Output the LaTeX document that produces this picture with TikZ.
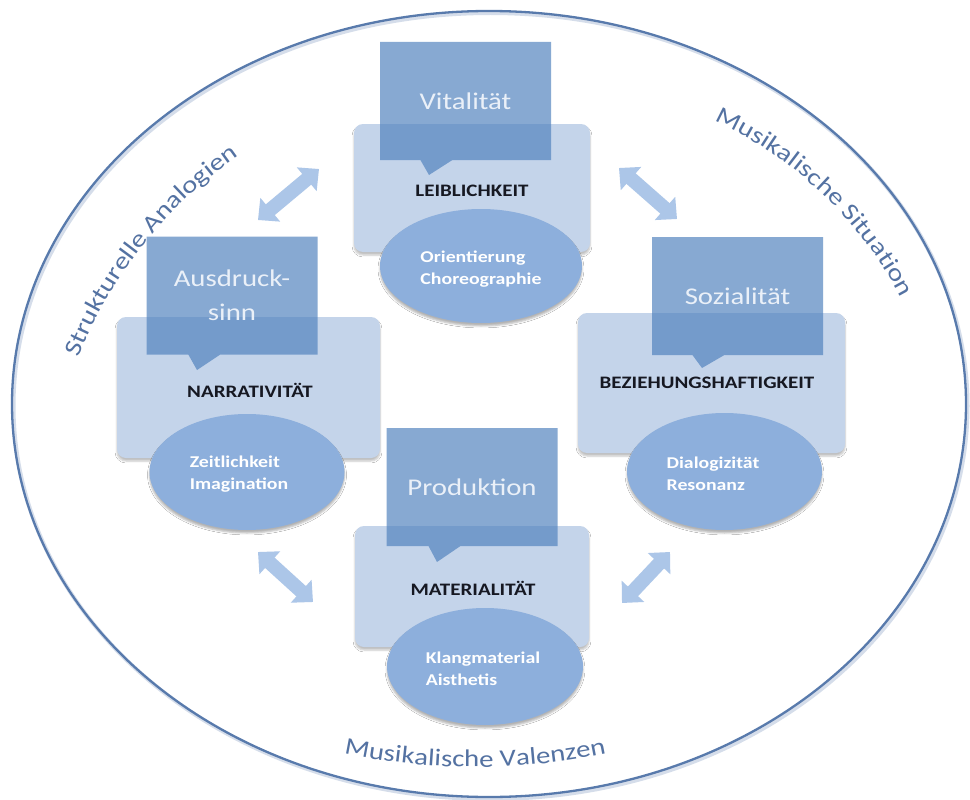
\documentclass[tikz,border=0pt]{standalone}
\usepackage{fontspec}
\setmainfont{Carlito}[FakeStretch=1.2]
\usetikzlibrary{shapes.geometric,shapes.callouts,arrows.meta,decorations.text,shadows.blur}

\definecolor{ringblue}{RGB}{88,122,172}
\definecolor{labelblue}{RGB}{84,114,162}
\definecolor{panelblue}{RGB}{196,212,234}
\definecolor{tabblue}{RGB}{79,129,189}
\definecolor{ovalblue}{RGB}{141,175,220}
\definecolor{arrowblue}{RGB}{172,198,232}
\definecolor{tabtext}{RGB}{234,240,248}
\definecolor{darktext}{RGB}{22,24,34}

\newcommand\arcfont{\color{labelblue}\fontsize{24}{28}\selectfont}

\begin{document}
\begin{tikzpicture}[x=1pt,y=1pt,
  panel/.style={rectangle, rounded corners=9pt, fill=panelblue, inner sep=0pt,
    blur shadow={shadow xshift=0pt, shadow yshift=-3pt, shadow opacity=25}},
  tab/.style={rectangle callout, fill=tabblue, fill opacity=0.68, text opacity=1,
    minimum width=171pt, minimum height=118pt, callout pointer width=32pt,
    text=tabtext, font=\fontsize{24}{34}\selectfont, align=center, inner sep=0pt},
  oval/.style={ellipse, fill=ovalblue, inner sep=0pt,
    blur shadow={shadow xshift=0pt, shadow yshift=-3pt, shadow opacity=30}},
  facet/.style={font=\bfseries\fontsize{17.5}{20}\selectfont, text=darktext, inner sep=0pt},
  aspect/.style={font=\bfseries\fontsize{16.5}{22}\selectfont, text=white, align=left, inner sep=0pt},
  link/.style={line width=14pt, draw=arrowblue,
    {Triangle[width=30pt,length=16pt]}-{Triangle[width=30pt,length=16pt]}},
  arclabel/.style={decorate, decoration={text along path, text align=center,
    text={|\arcfont|#1}}}
  ]
\useasboundingbox (0,0) rectangle (970,-800);
\fill[white] (0,0) rectangle (970,-800);

% outer ring with a faint shadow
\draw[ringblue, line width=4pt, opacity=0.25] (490.5,-406) ellipse [x radius=477pt, y radius=393pt];
\draw[ringblue, line width=2.3pt] (489,-404) ellipse [x radius=477pt, y radius=393pt];

% labels along the ring
\path[arclabel={Strukturelle Analogien}, shift={(496,-525)}]
  (166.5:450) arc[start angle=166.5, end angle=116.5, radius=450pt];
\path[arclabel={Musikalische Situation}, shift={(547,-484)}]
  (71.5:400) arc[start angle=71.5, end angle=21.5, radius=400pt];
\path[arclabel={Musikalische Valenzen}, shift={(475,-117)}]
  (245:650) arc[start angle=245, end angle=295, radius=650pt];

% top group
\node[panel, minimum width=236pt, minimum height=128pt] (topPanel) at (472,-188) {};
\node[tab, callout absolute pointer={(429,-175)}] (topTab) at (465.5,-101) {Vitalität};
\node[oval, minimum width=202pt, minimum height=114pt] (topOval) at (481,-266) {};
\node[facet] (topFacet) at (472,-191) {LEIBLICHKEIT};
\node[aspect] (topAspect) at (481,-269) {Orientierung\\Choreographie};

% left group
\node[panel, minimum width=263pt, minimum height=141pt] (leftPanel) at (248.5,-387.5) {};
\node[tab, callout absolute pointer={(197,-370)}] (leftTab) at (232,-295.5) {Ausdruck-\\sinn};
\node[oval, minimum width=195pt, minimum height=116pt] (leftOval) at (247,-472) {};
\node[facet] (leftFacet) at (250,-390) {NARRATIVITÄT};
\node[aspect] (leftAspect) at (239,-474) {Zeitlichkeit\\Imagination};

% right group
\node[panel, minimum width=267pt, minimum height=140pt] (rightPanel) at (711.5,-383) {};
\node[tab, callout absolute pointer={(702,-368)}] (rightTab) at (737.5,-296) {Sozialität};
\node[oval, minimum width=195pt, minimum height=117pt] (rightOval) at (724.5,-471.5) {};
\node[facet] (rightFacet) at (707,-383) {BEZIEHUNGSHAFTIGKEIT};
\node[aspect] (rightAspect) at (713,-474) {Dialogizität\\Resonanz};

% bottom group
\node[panel, minimum width=234pt, minimum height=121pt] (botPanel) at (472,-586.5) {};
\node[tab, callout absolute pointer={(437,-562)}] (botTab) at (472,-487) {Produktion};
\node[oval, minimum width=196pt, minimum height=117pt] (botOval) at (485,-666.5) {};
\node[facet] (botFacet) at (473,-588) {MATERIALITÄT};
\node[aspect] (botAspect) at (483,-669) {Klangmaterial\\Aisthetis};

% double arrows between the groups
\coordinate (nwA) at (258,-220); \coordinate (nwB) at (319,-169);
\coordinate (neA) at (619,-168); \coordinate (neB) at (677,-219);
\coordinate (swA) at (258,-552); \coordinate (swB) at (313,-602);
\coordinate (seA) at (622,-603); \coordinate (seB) at (670,-552);
\draw[link] (nwA) -- (nwB);
\draw[link] (neA) -- (neB);
\draw[link] (swA) -- (swB);
\draw[link] (seA) -- (seB);
\end{tikzpicture}
\end{document}
